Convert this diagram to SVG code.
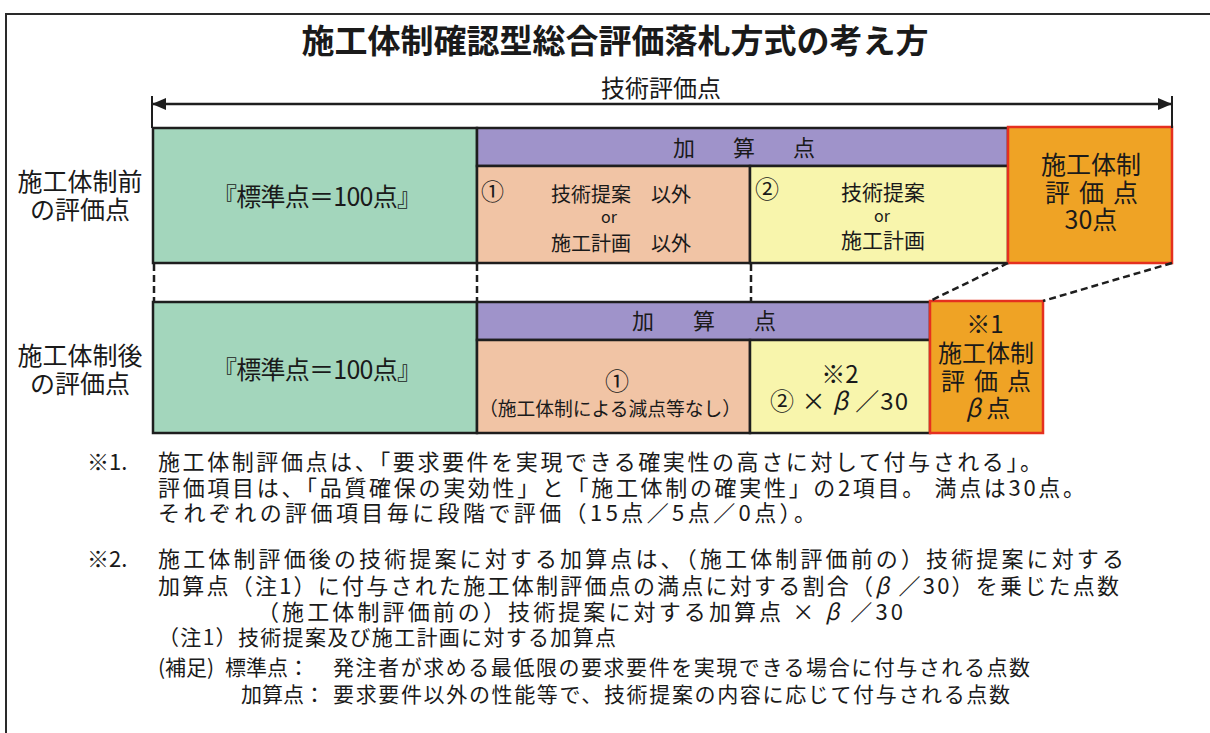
<svg xmlns="http://www.w3.org/2000/svg" width="1210" height="733" viewBox="0 0 1210 733">
<style>
text{font-family:"Noto Sans CJK JP","Noto Sans CJK SC",sans-serif;fill:#1a1a1a}
.box{stroke:#1e1e1e;stroke-width:2.5}
.green{fill:#a3d6bc}
.purple{fill:#9f93ca}
.peach{fill:#f1c4a5}
.yellow{fill:#f8f5ac}
.orange{fill:#efa325;stroke:#e5301f;stroke-width:2.5}
.dash{stroke:#1e1e1e;stroke-width:2.5;stroke-dasharray:7 4;fill:none}
.m{text-anchor:middle}
.lab{font-size:25px}
.note{font-size:22px}
.note2{font-size:21px}
</style>
<defs>
<marker id="ah" viewBox="0 0 14 12" refX="14" refY="6" markerWidth="14" markerHeight="12" markerUnits="userSpaceOnUse" orient="auto-start-reverse">
<path d="M0,0 L14,6 L0,12 Z" fill="#1e1e1e"/>
</marker>
</defs>
<rect x="0" y="0" width="1210" height="733" fill="#ffffff"/>
<rect x="6" y="14" width="1212" height="740" fill="none" stroke="#2a2a2a" stroke-width="2"/>
<text x="615" y="53" class="m" style="font-size:33px;font-weight:bold">施工体制確認型総合評価落札方式の考え方</text>
<text x="661" y="97" class="m" style="font-size:24px">技術評価点</text>

<g id="label-before">
<text x="80" y="191" class="m lab">施工体制前</text>
<text x="80" y="219" class="m lab">の評価点</text>
</g>
<g id="label-after">
<text x="80" y="365" class="m lab">施工体制後</text>
<text x="80" y="393" class="m lab">の評価点</text>
</g>

<g id="std-before">
<rect x="153" y="128" width="324" height="135" class="box green"/>
<text x="317" y="206" class="m" style="font-size:25px" textLength="210" lengthAdjust="spacing">『標準点＝100点』</text>
</g>
<g id="add-header-before">
<rect x="477" y="128" width="531" height="38" class="box purple"/>
<text x="673" y="156" style="font-size:22px;letter-spacing:38px">加算点</text>
</g>
<g id="add1-before">
<rect x="477" y="166" width="273" height="97" class="box peach"/>
<text x="481" y="200" style="font-size:23px">①</text>
<text x="621" y="202" class="m" style="font-size:20px">技術提案　以外</text>
<text x="609" y="223" class="m" style="font-size:16px">or</text>
<text x="621" y="251" class="m" style="font-size:20px">施工計画　以外</text>
</g>
<g id="add2-before">
<rect x="750" y="166" width="258" height="97" class="box yellow"/>
<text x="755" y="198" style="font-size:24px">②</text>
<text x="883" y="200" class="m" style="font-size:21px">技術提案</text>
<text x="882" y="222" class="m" style="font-size:16px">or</text>
<text x="883" y="248" class="m" style="font-size:21px">施工計画</text>
</g>
<g id="sekou-before">
<rect x="1008" y="127" width="164" height="136" class="orange"/>
<text x="1091" y="174" class="m lab">施工体制</text>
<text x="1045" y="202" class="lab" style="letter-spacing:9px">評価点</text>
<text x="1091" y="229" class="m lab">30点</text>
</g>

<g id="std-after">
<rect x="153" y="302" width="324" height="131" class="box green"/>
<text x="317" y="379" class="m" style="font-size:25px" textLength="210" lengthAdjust="spacing">『標準点＝100点』</text>
</g>
<g id="add-header-after">
<rect x="477" y="302" width="453" height="38" class="box purple"/>
<text x="632" y="329" style="font-size:22px;letter-spacing:39px">加算点</text>
</g>
<g id="add1-after">
<rect x="477" y="340" width="273" height="93" class="box peach"/>
<text x="617" y="390" class="m" style="font-size:24px">①</text>
<text x="610" y="416" class="m" style="font-size:19px" textLength="262" lengthAdjust="spacingAndGlyphs">（施工体制による減点等なし）</text>
</g>
<g id="add2-after">
<rect x="750" y="340" width="180" height="93" class="box yellow"/>
<text x="840" y="383" class="m" style="font-size:24px">※2</text>
<text x="839" y="410" class="m" style="font-size:24px" textLength="138" lengthAdjust="spacing">② × <tspan font-style="italic">β</tspan> ／30</text>
</g>
<g id="sekou-after">
<rect x="930" y="301" width="113" height="132" class="orange"/>
<text x="985" y="333" class="m" style="font-size:24px">※1</text>
<text x="986" y="362" class="m" style="font-size:24px">施工体制</text>
<text x="941" y="390" style="font-size:24px;letter-spacing:9px">評価点</text>
<text x="988" y="417" class="m" style="font-size:24px"><tspan font-style="italic">β</tspan> 点</text>
</g>

<g id="connectors">
<line x1="152" y1="104" x2="1172" y2="104" stroke="#1e1e1e" stroke-width="2.5" marker-start="url(#ah)" marker-end="url(#ah)"/>
<line x1="152" y1="96" x2="152" y2="128" stroke="#1e1e1e" stroke-width="2"/>
<line x1="1172" y1="96" x2="1172" y2="128" stroke="#1e1e1e" stroke-width="2"/>
<line x1="154" y1="264" x2="154" y2="301" class="dash"/>
<line x1="477" y1="264" x2="477" y2="301" class="dash"/>
<line x1="751" y1="264" x2="751" y2="301" class="dash"/>
<line x1="1008" y1="263" x2="930" y2="301" class="dash"/>
<line x1="1172" y1="263" x2="1043" y2="301" class="dash"/>
</g>

<g id="notes">
<text x="87" y="470" class="note">※1.</text>
<text x="158" y="470" class="note" textLength="884" lengthAdjust="spacing">施工体制評価点は、「要求要件を実現できる確実性の高さに対して付与される」。</text>
<text x="158" y="496" class="note" textLength="927" lengthAdjust="spacing">評価項目は、「品質確保の実効性」と「施工体制の確実性」の2項目。 満点は30点。</text>
<text x="158" y="521" class="note" textLength="658" lengthAdjust="spacing">それぞれの評価項目毎に段階で評価（15点／5点／0点）。</text>
<text x="87" y="567" class="note">※2.</text>
<text x="158" y="567" class="note" textLength="966" lengthAdjust="spacing">施工体制評価後の技術提案に対する加算点は、（施工体制評価前の）技術提案に対する</text>
<text x="158" y="594" class="note" textLength="961" lengthAdjust="spacing">加算点（注1）に付与された施工体制評価点の満点に対する割合（<tspan font-style="italic">β</tspan> ／30）を乗じた点数</text>
<text x="257" y="620" class="note" textLength="646" lengthAdjust="spacing">（施工体制評価前の）技術提案に対する加算点 × <tspan font-style="italic">β</tspan> ／30</text>
<text x="158" y="645" class="note2" textLength="458" lengthAdjust="spacing">（注1）技術提案及び施工計画に対する加算点</text>
<text x="158" y="675" class="note2">(補足)</text>
<text x="225" y="675" class="note2">標準点：</text>
<text x="333" y="675" class="note2" textLength="697" lengthAdjust="spacing">発注者が求める最低限の要求要件を実現できる場合に付与される点数</text>
<text x="241" y="702" class="note2">加算点：</text>
<text x="333" y="702" class="note2" textLength="677" lengthAdjust="spacing">要求要件以外の性能等で、技術提案の内容に応じて付与される点数</text>
</g>
</svg>
